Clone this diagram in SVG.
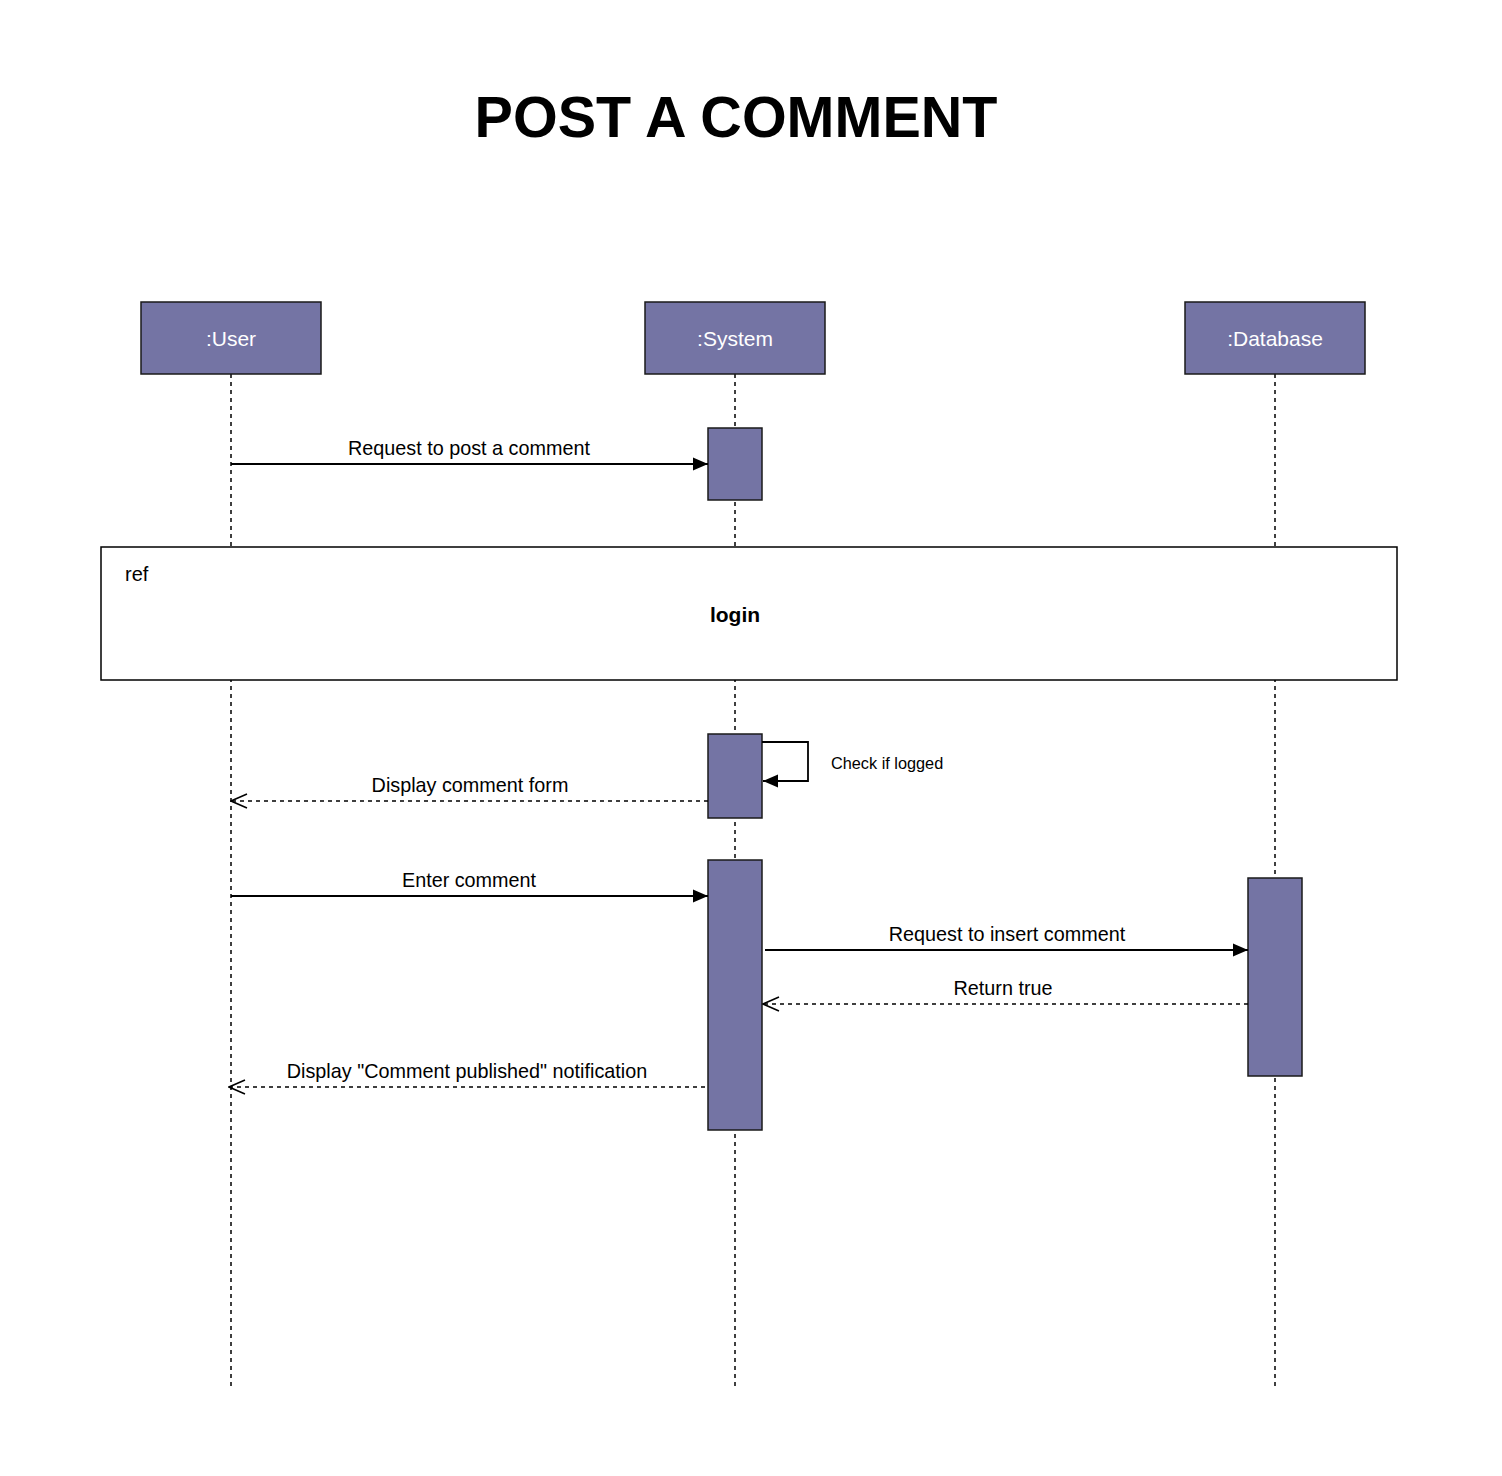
<svg xmlns="http://www.w3.org/2000/svg" width="1502" height="1476" viewBox="0 0 1502 1476">
<defs>
<style>
.head{fill:#7474a4;stroke:#1a1a1a;stroke-width:1.5}
.act{fill:#7474a4;stroke:#1a1a1a;stroke-width:1.5}
.life{stroke:#000;stroke-width:1.5;stroke-dasharray:4,4;fill:none}
.msg{stroke:#000;stroke-width:1.8;fill:none}
.ret{stroke:#000;stroke-width:1.5;stroke-dasharray:4,4;fill:none}
.ht{font-family:"Liberation Sans",Arial,sans-serif;font-size:21px;fill:#fff;text-anchor:middle}
.lbl{font-family:"Liberation Sans",Arial,sans-serif;font-size:19.8px;fill:#000;text-anchor:middle}
</style>
<marker id="filled" markerWidth="16" markerHeight="16" refX="15" refY="8" orient="auto" markerUnits="userSpaceOnUse">
<path d="M0,1.5 L15,8 L0,14.5 Z" fill="#000"/>
</marker>
<marker id="open" markerWidth="18" markerHeight="16" refX="17" refY="8" orient="auto" markerUnits="userSpaceOnUse">
<path d="M1,1 L17,8 L1,15" fill="none" stroke="#000" stroke-width="1.5"/>
</marker>
</defs>
<rect width="1502" height="1476" fill="#fff"/>
<text x="736" y="137" font-family="Liberation Sans,Arial,sans-serif" font-size="57.5" font-weight="bold" text-anchor="middle">POST A COMMENT</text>

<g id="lifelines">
<line class="life" x1="231" y1="374" x2="231" y2="1390"/>
<line class="life" x1="735" y1="374" x2="735" y2="1390"/>
<line class="life" x1="1275" y1="374" x2="1275" y2="1390"/>
</g>

<g id="user"><rect class="head" x="141" y="302" width="180" height="72"/><text class="ht" x="231" y="345.5">:User</text></g>
<g id="system"><rect class="head" x="645" y="302" width="180" height="72"/><text class="ht" x="735" y="345.5">:System</text></g>
<g id="database"><rect class="head" x="1185" y="302" width="180" height="72"/><text class="ht" x="1275" y="345.5">:Database</text></g>

<g id="ref-login">
<rect x="101" y="547" width="1296" height="133" fill="#fff" stroke="#000" stroke-width="1.5"/>
<text x="125" y="581" font-family="Liberation Sans,Arial,sans-serif" font-size="20">ref</text>
<text x="735" y="621.5" font-family="Liberation Sans,Arial,sans-serif" font-size="21" font-weight="bold" text-anchor="middle">login</text>
</g>

<g id="activations">
<rect class="act" x="708" y="428" width="54" height="72"/>
<rect class="act" x="708" y="734" width="54" height="84"/>
<rect class="act" x="708" y="860" width="54" height="270"/>
<rect class="act" x="1248" y="878" width="54" height="198"/>
</g>

<g id="connectors">
<line class="msg" x1="231" y1="464" x2="708" y2="464" marker-end="url(#filled)"/>
<text class="lbl" x="469" y="455">Request to post a comment</text>

<path class="msg" d="M762,742 H808 V781 H763" marker-end="url(#filled)"/>
<text x="831" y="769" font-family="Liberation Sans,Arial,sans-serif" font-size="16.3">Check if logged</text>

<line class="ret" x1="708" y1="801" x2="231" y2="801" marker-end="url(#open)"/>
<text class="lbl" x="470" y="792">Display comment form</text>

<line class="msg" x1="231" y1="896" x2="708" y2="896" marker-end="url(#filled)"/>
<text class="lbl" x="469" y="887">Enter comment</text>

<line class="msg" x1="765" y1="950" x2="1248" y2="950" marker-end="url(#filled)"/>
<text class="lbl" x="1007" y="941">Request to insert comment</text>

<line class="ret" x1="1248" y1="1004" x2="763" y2="1004" marker-end="url(#open)"/>
<text class="lbl" x="1003" y="995">Return true</text>

<line class="ret" x1="705" y1="1087" x2="229" y2="1087" marker-end="url(#open)"/>
<text class="lbl" x="467" y="1078">Display "Comment published" notification</text>
</g>
</svg>
